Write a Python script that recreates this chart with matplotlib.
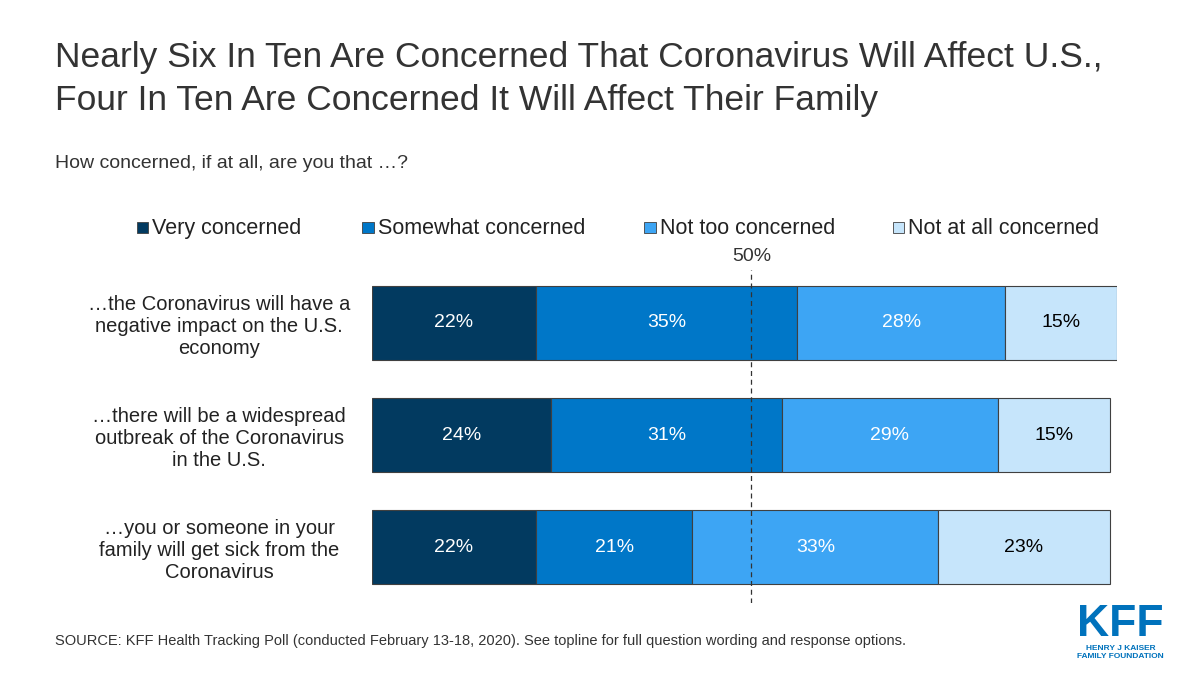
import matplotlib.pyplot as plt
from matplotlib.patches import Rectangle

questions = ["…the Coronavirus will have a\nnegative impact on the U.S.\neconomy",
             "…there will be a widespread\noutbreak of the Coronavirus\nin the U.S.",
             "…you or someone in your\nfamily will get sick from the\nCoronavirus"]
series = ["Very concerned", "Somewhat concerned", "Not too concerned", "Not at all concerned"]
very = [22, 24, 22]
somewhat = [35, 31, 21]
not_too = [28, 29, 33]
not_at_all = [15, 15, 23]
ref_line = 50.9  # dashed "50%" marker as drawn in the source slide
colors = ["#023a60", "#0077c8", "#3da5f4", "#c6e5fb"]
text_colors = ["white", "white", "white", "black"]

plt.rcParams['font.family'] = ['Liberation Sans', 'DejaVu Sans']
fig = plt.figure(figsize=(12, 6.75), dpi=100)
ax = fig.add_axes([0.31, 0.107, 0.621, 0.493])

ypos = range(len(questions))
left = [0, 0, 0]
for vals, c, tc in zip([very, somewhat, not_too, not_at_all], colors, text_colors):
    ax.barh(ypos, vals, left=left, height=0.66, color=c, edgecolor="#404040", linewidth=0.8)
    for y, v, l in zip(ypos, vals, left):
        ax.text(l + v / 2, y, f"{v}%", ha="center", va="center", color=tc, fontsize=14)
    left = [l + v for l, v in zip(left, vals)]

ax.axvline(ref_line, color="#333333", linestyle=(0, (4, 3)), linewidth=0.9)
ax.set_xlim(0, 100)
ax.set_ylim(2.497, -0.473)
ax.set_yticks(list(ypos))
ax.set_yticklabels(questions, fontsize=14.5, ha="center", color="#222222")
ax.tick_params(axis="y", length=0, pad=110)
ax.set_xticks([])
for s in ax.spines.values():
    s.set_visible(False)
ax.text(ref_line, -0.52, "50%", ha="center", va="bottom", fontsize=14, color="#333333")

fig.text(0.046, 0.94, "Nearly Six In Ten Are Concerned That Coronavirus Will Affect U.S.,\nFour In Ten Are Concerned It Will Affect Their Family",
         fontsize=25.5, color="#333333", va="top", linespacing=1.42)
fig.text(0.046, 0.758, "How concerned, if at all, are you that …?", fontsize=14, color="#333333", va="center")

leg_x = [0.114, 0.302, 0.537, 0.744]
for x, lab, c in zip(leg_x, series, colors):
    fig.add_artist(Rectangle((x, 0.655), 0.0095, 0.0165, transform=fig.transFigure,
                             facecolor=c, edgecolor="#404040", linewidth=0.6))
    fig.text(x + 0.013, 0.662, lab, fontsize=15.5, color="#222222", va="center")

fig.text(0.046, 0.05, "SOURCE: KFF Health Tracking Poll (conducted February 13-18, 2020). See topline for full question wording and response options.",
         fontsize=10.5, color="#333333", va="center")
fig.text(0.934, 0.045, "KFF", fontsize=32, fontweight="bold", color="#0072bc", ha="center", va="bottom")
fig.text(0.934, 0.033, "HENRY J KAISER\nFAMILY FOUNDATION", fontsize=6, color="#0072bc", ha="center", va="center",
         fontweight="bold", linespacing=1.1)

fig.savefig("out.png", dpi=100)
